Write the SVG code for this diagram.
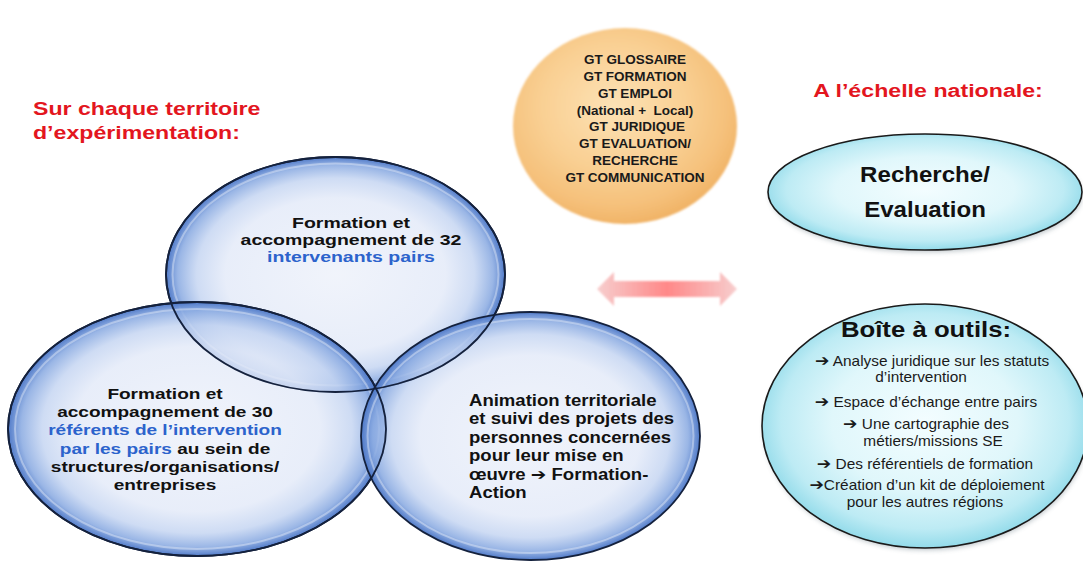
<svg xmlns="http://www.w3.org/2000/svg" width="1083" height="563" viewBox="0 0 1083 563">
  <style>
    text { font-family: "Liberation Sans", "DejaVu Sans", sans-serif; fill: #111; }
    .b { font-weight: bold; }
    .red { fill: #e3161e; font-weight: bold; }
    .blue { fill: #2c63cc; }
    .arw { font-family: "DejaVu Sans", sans-serif; font-weight: bold; font-size: 112%; }
    .gt { font-size: 13.5px; font-weight: bold; text-anchor: middle; fill: #1a1a1a; }
    .venn { font-size: 15px; font-weight: bold; text-anchor: middle; }
    .tool { font-size: 14px; text-anchor: middle; fill: #1a1a1a; }
    .rim { fill: url(#bubbleFill); stroke: #14213d; stroke-width: 1.8; }
    .gloss { fill: none; stroke: #ffffff; stroke-opacity: 0.35; stroke-width: 2; }
    .cyan { fill: url(#cyanFill); stroke: #1a1a1a; stroke-width: 1.6; }
  </style>
  <defs>
    <radialGradient id="bubbleFill" cx="50%" cy="50%" r="50%">
      <stop offset="0" stop-color="#edf1fa" stop-opacity="0.8"/>
      <stop offset="0.65" stop-color="#e2e9f8" stop-opacity="0.8"/>
      <stop offset="0.82" stop-color="#c2d3f1" stop-opacity="0.8"/>
      <stop offset="0.93" stop-color="#88a9e1" stop-opacity="0.85"/>
      <stop offset="1" stop-color="#4874c6" stop-opacity="0.95"/>
    </radialGradient>
    <radialGradient id="cyanFill" cx="50%" cy="48%" r="52%">
      <stop offset="0" stop-color="#f3fdff"/>
      <stop offset="0.55" stop-color="#e0f7fb"/>
      <stop offset="0.85" stop-color="#bdebf4"/>
      <stop offset="1" stop-color="#93dbea"/>
    </radialGradient>
    <radialGradient id="orangeFill" cx="45%" cy="40%" r="60%">
      <stop offset="0" stop-color="#fde2b5"/>
      <stop offset="0.55" stop-color="#f9cf92"/>
      <stop offset="0.85" stop-color="#f5c07a"/>
      <stop offset="1" stop-color="#f1b468"/>
    </radialGradient>
    <linearGradient id="arrowFill" x1="0" y1="0" x2="1" y2="0">
      <stop offset="0" stop-color="#f6c6c6"/>
      <stop offset="0.5" stop-color="#ff7474"/>
      <stop offset="1" stop-color="#f6c6c6"/>
    </linearGradient>
    <filter id="soft" x="-10%" y="-10%" width="120%" height="120%">
      <feGaussianBlur stdDeviation="1.2"/>
    </filter>
    <filter id="shade" x="-10%" y="-10%" width="120%" height="130%">
      <feGaussianBlur stdDeviation="2.5"/>
    </filter>
  </defs>

  <rect width="1083" height="563" fill="#ffffff"/>

  <!-- section headings -->
  <g id="heading-territoire">
    <g transform="translate(33,0) scale(1.25,1)">
      <text class="red" x="0" y="115" font-size="18.5">Sur chaque territoire</text>
      <text class="red" x="0" y="139" font-size="18.5">d’expérimentation:</text>
    </g>
  </g>
  <g id="heading-national">
    <g transform="translate(928,0) scale(1.22,1)">
      <text class="red" x="0" y="97" font-size="19" text-anchor="middle">A l’échelle nationale:</text>
    </g>
  </g>

  <!-- Venn bubbles: fills first, then outlines so every rim stays visible -->
  <g id="bubble-intervenants">
    <ellipse class="rim" cx="335.5" cy="274.5" rx="169.5" ry="117.5"/>
    <ellipse class="gloss" cx="335.5" cy="274.5" rx="163" ry="111"/>
  </g>
  <g id="bubble-referents">
    <ellipse class="rim" cx="197" cy="429" rx="189" ry="127"/>
    <ellipse class="gloss" cx="197" cy="429" rx="182" ry="120"/>
  </g>
  <g id="bubble-animation">
    <ellipse class="rim" cx="530.5" cy="436" rx="169.5" ry="124"/>
    <ellipse class="gloss" cx="530.5" cy="436" rx="163" ry="117"/>
  </g>
  <g id="venn-outlines" fill="none" stroke="#14213d" stroke-width="1.8">
    <ellipse cx="335.5" cy="274.5" rx="169.5" ry="117.5"/>
    <ellipse cx="197" cy="429" rx="189" ry="127"/>
  </g>

  <!-- Venn labels -->
  <g id="label-intervenants" transform="translate(351,0) scale(1.3,1)">
    <text class="venn" x="0" y="228" font-size="14.5">Formation et</text>
    <text class="venn" x="0" y="245" font-size="14.5">accompagnement de 32</text>
    <text class="venn blue" x="0" y="262" font-size="14.5">intervenants pairs</text>
  </g>
  <g id="label-referents" transform="translate(165,0) scale(1.27,1)">
    <text class="venn" x="0" y="399">Formation et</text>
    <text class="venn" x="0" y="417">accompagnement de 30</text>
    <text class="venn blue" x="0" y="435.5">référents de l’intervention</text>
    <text class="venn" x="0" y="454"><tspan class="blue">par les pairs</tspan> au sein de</text>
    <text class="venn" x="0" y="472.5">structures/organisations/</text>
    <text class="venn" x="0" y="490.5">entreprises</text>
  </g>
  <g id="label-animation" transform="translate(469,0) scale(1.16,1)">
    <text class="b" x="0" y="406" font-size="16">Animation territoriale</text>
    <text class="b" x="0" y="424.5" font-size="16">et suivi des projets des</text>
    <text class="b" x="0" y="443" font-size="16">personnes concernées</text>
    <text class="b" x="0" y="461.5" font-size="16">pour leur mise en</text>
    <text class="b" x="0" y="480" font-size="16">œuvre <tspan font-family="DejaVu Sans, sans-serif">➔</tspan> Formation-</text>
    <text class="b" x="0" y="498.5" font-size="16">Action</text>
  </g>

  <!-- working groups -->
  <g id="node-groupes-travail">
    <ellipse cx="625" cy="126" rx="112" ry="98" fill="url(#orangeFill)" filter="url(#soft)"/>
    <text class="gt" x="635" y="64">GT GLOSSAIRE</text>
    <text class="gt" x="635" y="81">GT FORMATION</text>
    <text class="gt" x="635" y="98">GT EMPLOI</text>
    <text class="gt" x="635" y="114.5" xml:space="preserve">(National +  Local)</text>
    <text class="gt" x="637" y="131">GT JURIDIQUE</text>
    <text class="gt" x="635" y="148">GT EVALUATION/</text>
    <text class="gt" x="635" y="165">RECHERCHE</text>
    <text class="gt" x="635" y="181.5">GT COMMUNICATION</text>
  </g>

  <!-- national level -->
  <g id="node-recherche">
    <ellipse cx="926" cy="195" rx="156" ry="57" fill="#6a7d86" opacity="0.45" filter="url(#shade)"/>
    <ellipse class="cyan" cx="925" cy="192" rx="157" ry="58"/>
    <g transform="translate(925,0) scale(1.12,1)">
      <text class="b" x="0" y="182" font-size="21.5" text-anchor="middle">Recherche/</text>
      <text class="b" x="0" y="217" font-size="21.5" text-anchor="middle">Evaluation</text>
    </g>
  </g>
  <g id="node-boite-outils">
    <ellipse cx="926" cy="429" rx="162" ry="121" fill="#6a7d86" opacity="0.45" filter="url(#shade)"/>
    <ellipse class="cyan" cx="925" cy="426" rx="163" ry="122"/>
    <g transform="translate(926,0) scale(1.12,1)">
      <text class="b" x="0" y="337" font-size="23" text-anchor="middle">Boîte à outils:</text>
    </g>
    <g transform="scale(1.1,1)">
      <text class="tool" x="847.3" y="366"><tspan class="arw">➔</tspan> Analyse juridique sur les statuts</text>
      <text class="tool" x="837.3" y="382.5">d’intervention</text>
      <text class="tool" x="841.8" y="407"><tspan class="arw">➔</tspan> Espace d’échange entre pairs</text>
      <text class="tool" x="841.8" y="429.5"><tspan class="arw">➔</tspan> Une cartographie des</text>
      <text class="tool" x="848.2" y="446">métiers/missions SE</text>
      <text class="tool" x="840.9" y="469"><tspan class="arw">➔</tspan> Des référentiels de formation</text>
      <text class="tool" x="842.7" y="490.5"><tspan class="arw">➔</tspan>Création d’un kit de déploiement</text>
      <text class="tool" x="840.9" y="507.5">pour les autres régions</text>
    </g>
  </g>

  <!-- connectors -->
  <g id="connectors">
    <polygon points="597,289 614,272 614,281 720,281 720,272 737,289 720,306 720,297 614,297 614,306" fill="url(#arrowFill)" opacity="0.85" filter="url(#soft)"/>
  </g>
</svg>
